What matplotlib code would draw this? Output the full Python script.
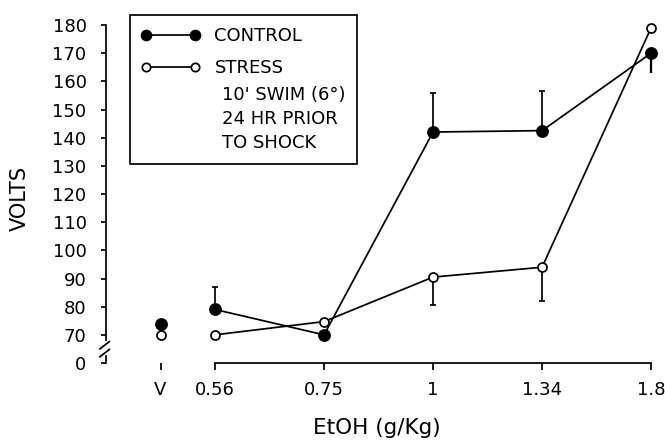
import matplotlib
matplotlib.use('Agg')
import matplotlib.pyplot as plt
import matplotlib.transforms as mtransforms
from matplotlib.lines import Line2D
from matplotlib.patches import Rectangle
import numpy as np

plt.rcParams['font.family'] = ['DejaVu Sans']

# data (VOLTS); V = vehicle
dose_labels = ['V', '0.56', '0.75', '1', '1.34', '1.8']
dose_pos = [0.5, 1, 2, 3, 4, 5]

control = [74, 79, 70, 142, 142.5, 170]
control_err_up = [0, 8, 0, 14, 14, 0]
control_err_dn = [0, 0, 0, 0, 0, 7]

stress = [70, 70, 74.7, 90.5, 94, 179]
stress_err_up = [0, 0, 0, 0, 0, 0]
stress_err_dn = [0, 0, 0, 10, 12, 0]

yticks = [60, 70, 80, 90, 100, 110, 120, 130, 140, 150, 160, 170, 180]
ytick_labels = ['0', '70', '80', '90', '100', '110', '120', '130', '140',
                '150', '160', '170', '180']

lw = 1.25
fig = plt.figure(figsize=(6.65, 4.4), dpi=100)
ax = fig.add_axes([106/665, 1 - 363/440, (662 - 106)/665, (363 - 25)/440])

x = np.array(dose_pos)
zeros = [0] * len(x)
# connecting lines skip the vehicle point
ax.plot(x[1:], control[1:], color='black', lw=lw, zorder=2)
ax.plot(x[1:], stress[1:], color='black', lw=lw, zorder=2)

# upward bars have caps, the downward control bar at 1.8 does not
ax.errorbar(x, control, yerr=[zeros, control_err_up], fmt='none',
            ecolor='black', elinewidth=lw, capsize=2.3, capthick=lw, zorder=1)
ax.errorbar(x, control, yerr=[control_err_dn, zeros], fmt='none',
            ecolor='black', elinewidth=lw * 1.3, capsize=0, zorder=1)
ax.errorbar(x, stress, yerr=[stress_err_dn, stress_err_up], fmt='none',
            ecolor='black', elinewidth=lw, capsize=2.3, capthick=lw, zorder=1)

ax.plot(x, control, 'o', ms=8, mfc='black', mec='black', mew=lw,
        linestyle='none', zorder=4, clip_on=False)
ax.plot(x, stress, 'o', ms=6.5, mfc='white', mec='black', mew=lw,
        linestyle='none', zorder=3, clip_on=False)

ax.set_xlim(0, 5.1)
ax.set_ylim(60, 180)
ax.set_xticks(dose_pos)
ax.set_xticklabels(dose_labels, fontsize=13)
ax.set_yticks(yticks)
ax.set_yticklabels(ytick_labels, fontsize=13)
ax.tick_params(axis='x', direction='out', length=5, width=lw, pad=8)
ax.tick_params(axis='y', direction='out', length=3.5, width=lw, pad=10.5)

for s in ['top', 'right']:
    ax.spines[s].set_visible(False)
ax.spines['bottom'].set_bounds(1, 5)
ax.spines['bottom'].set_linewidth(lw)
ax.spines['left'].set_bounds(68.3, 180)
ax.spines['left'].set_linewidth(lw)

# axis break on the y axis
trans = mtransforms.blended_transform_factory(ax.transAxes, ax.transData)
brk = dict(color='black', lw=lw, transform=trans, clip_on=False)
ax.plot([-0.011, 0.006], [65.0, 67.6], **brk)
ax.plot([-0.011, 0.006], [62.2, 64.8], **brk)
ax.plot([0, 0], [60, 62.6], **brk)

# legend
handles = [Line2D([], [], color='black', lw=lw, marker='o', ms=7.4,
                  mfc='black', mec='black'),
           Line2D([], [], color='black', lw=lw, marker='o', ms=6,
                  mfc='white', mec='black', mew=lw)]
leg = ax.legend(handles, ['CONTROL', 'STRESS'], numpoints=2, frameon=False,
                fontsize=13, handlelength=3.27, handletextpad=0.8,
                labelspacing=0.8, borderpad=0, borderaxespad=0,
                loc='upper left', bbox_to_anchor=(141/665, 1 - 27/440),
                bbox_transform=fig.transFigure)
for txt, yy in [("10' SWIM (6°)", 95), ('24 HR PRIOR', 119), ('TO SHOCK', 143)]:
    fig.text(222/665, 1 - yy/440, txt, fontsize=13, ha='left', va='center')
fig.patches.append(Rectangle((130/665, 1 - 164/440), (357 - 130)/665,
                             (164 - 15)/440, transform=fig.transFigure,
                             fill=False, ec='black', lw=lw))

fig.text(377/665, 1 - 428/440, 'EtOH (g/Kg)', fontsize=15.5,
         ha='center', va='center')
fig.text(20/665, 1 - 198/440, 'VOLTS', fontsize=15, rotation=90,
         ha='center', va='center')

fig.savefig('out.png', dpi=100)
